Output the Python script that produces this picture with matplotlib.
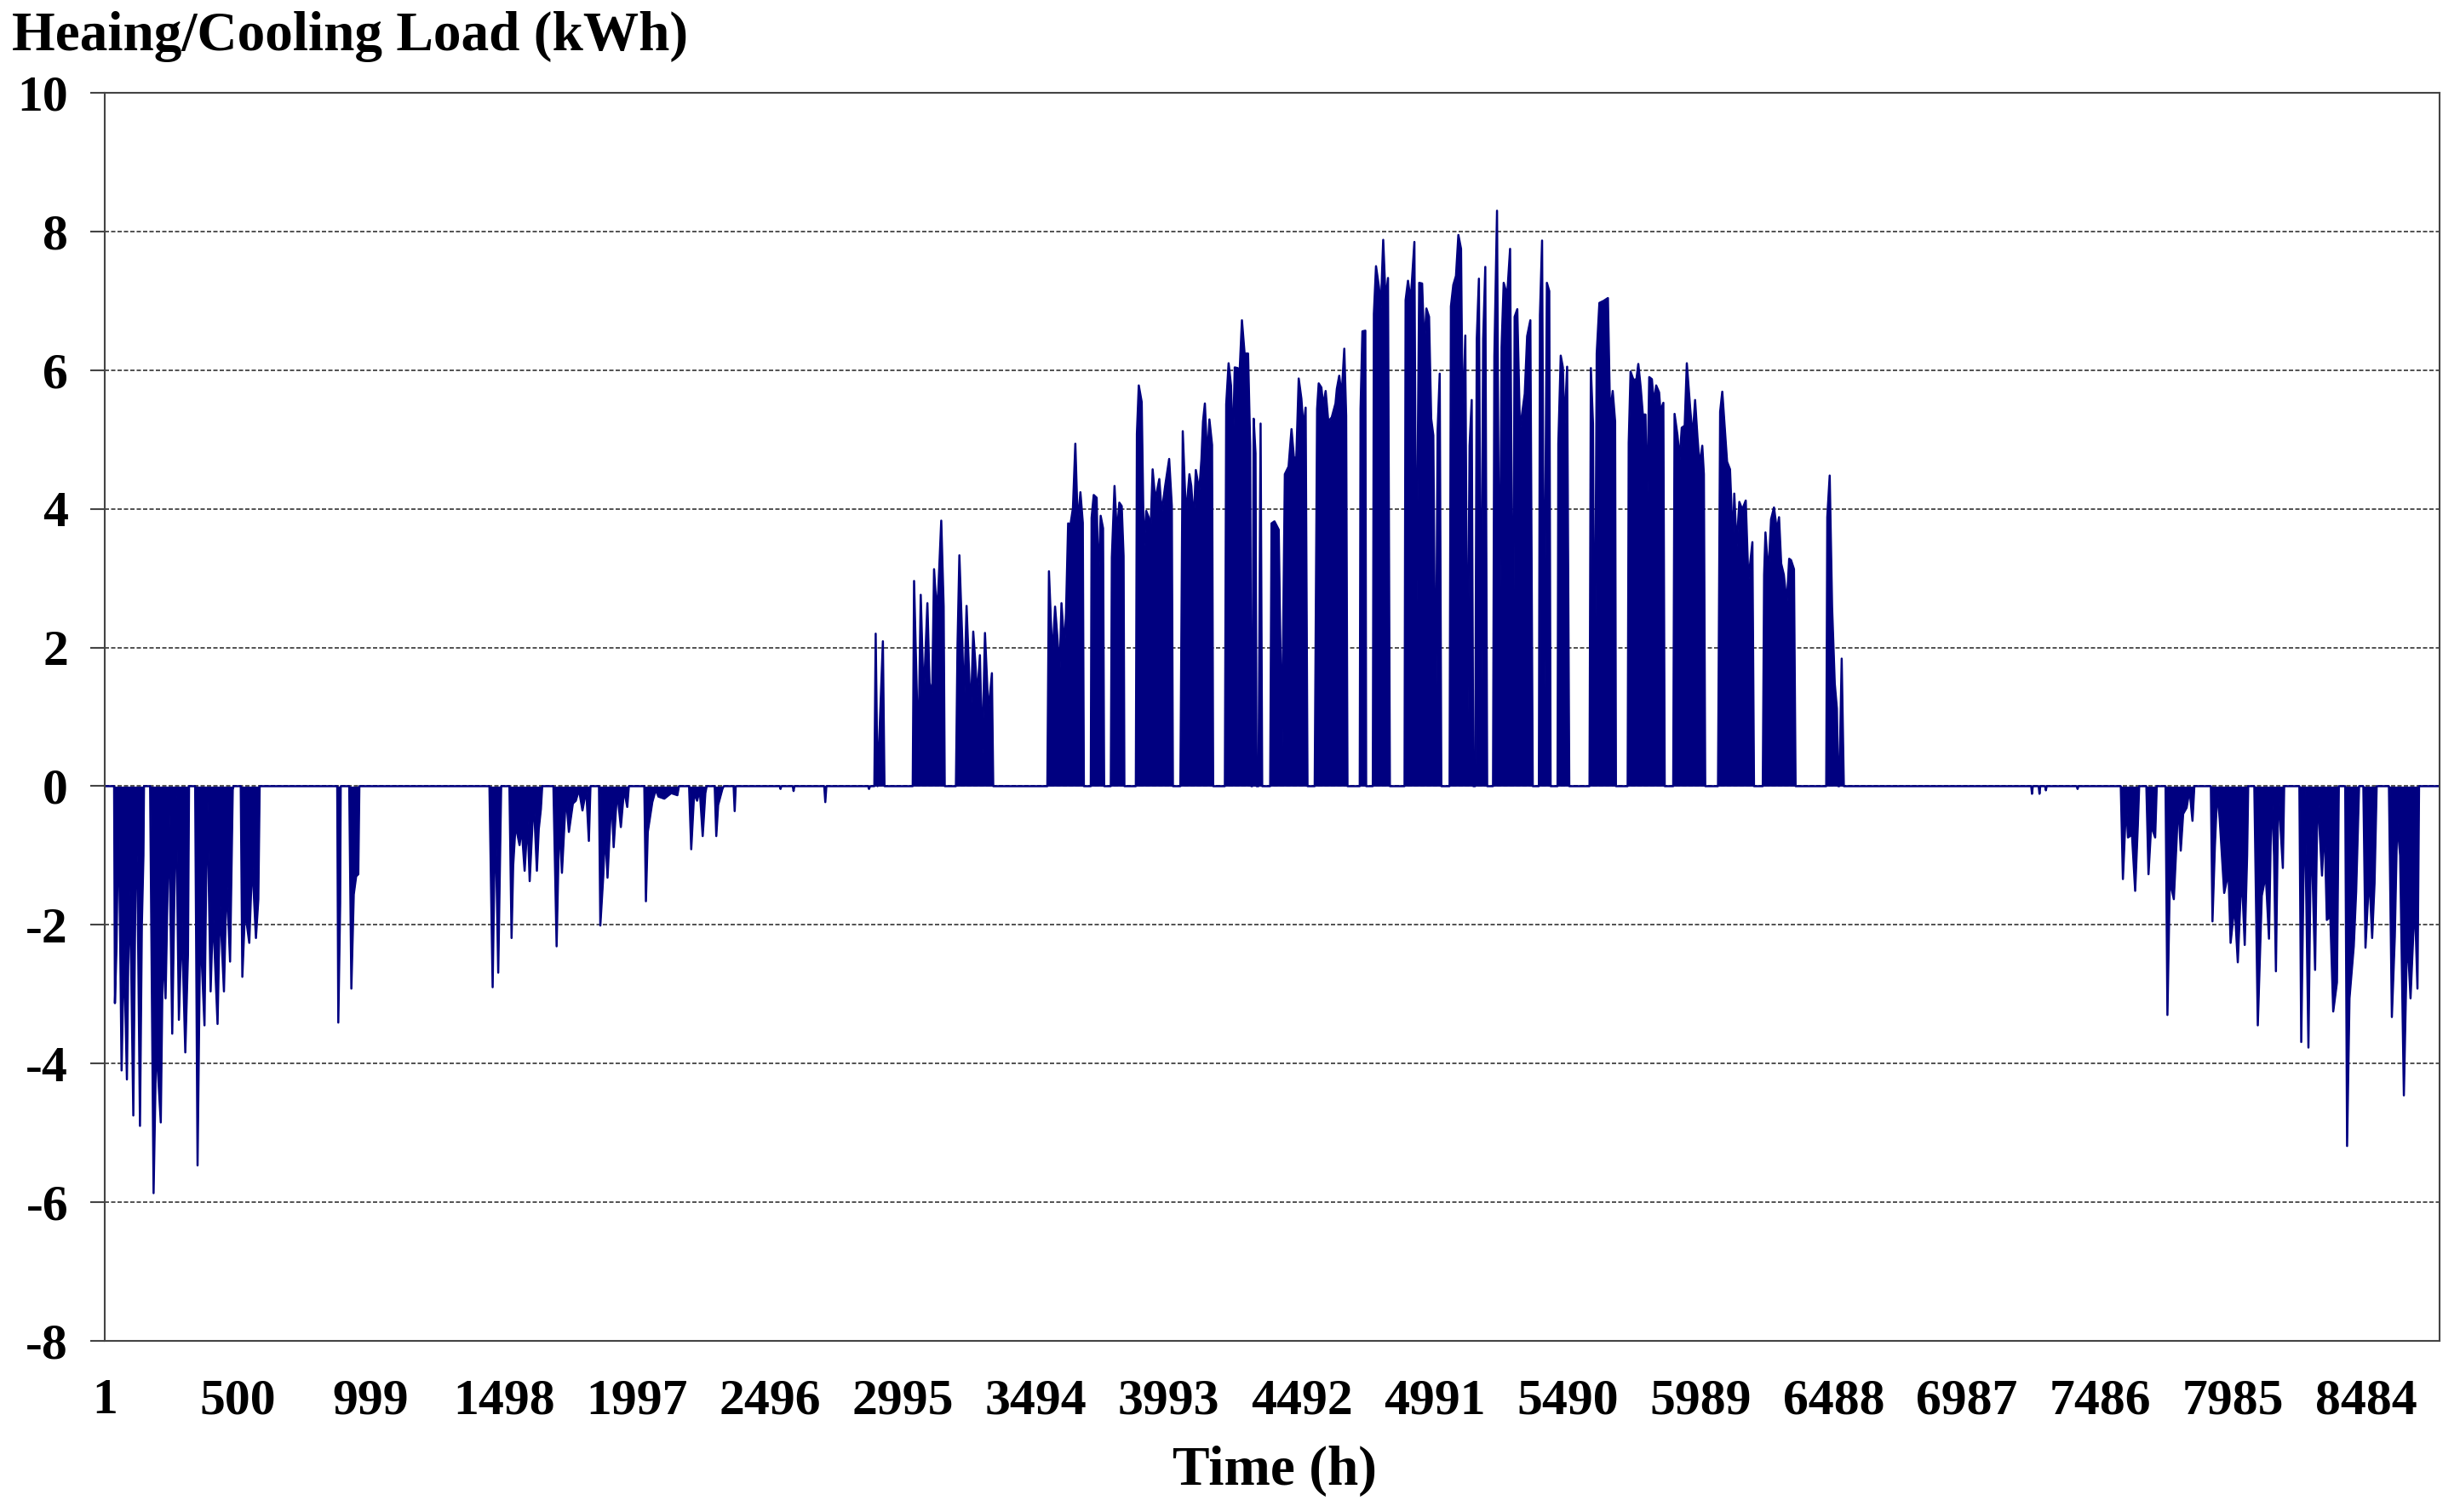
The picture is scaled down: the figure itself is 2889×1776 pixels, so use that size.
import matplotlib
matplotlib.use("Agg")
import matplotlib.pyplot as plt
import numpy as np

# hourly load (kWh) as (hour, load) turning points;
# negative = heating, positive = cooling, zero elsewhere
heating_early = [
  (36, 0), (39, -3.13), (45, -2.32), (52, -0.3), (58, -2.0), (64, -4.10), (73, -2.30),
  (84, -4.23), (92, -1.5), (100, -2.60), (108, -4.75), (118, -0.6), (124, -1.5),
  (133, -4.90), (140, -2.0), (146, -1.0), (148, 0),
  (171, 0), (184, -5.87), (194, -3.69), (211, -4.85), (219, -2.3), (229, -3.06),
  (242, -0.4), (254, -3.57), (268, -0.1), (279, -3.37), (290, -1.95), (303, -3.84),
  (313, -2.43), (317, 0),
  (340, 0), (349, -5.47), (359, -2.0), (375, -3.45), (385, -0.05), (398, -2.96),
  (407, -1.81), (424, -3.43), (433, -1.67), (448, -2.96), (458, -1.33), (471, -2.53),
  (481, -0.05), (484, 0),
  (511, 0), (517, -2.75), (527, -1.79), (543, -2.26), (554, -1.07), (568, -2.19),
  (577, -1.63), (582, 0),
  (873, 0), (877, -3.41), (884, -1.69), (886, 0),
  (918, 0), (926, -2.92), (935, -1.56), (944, -1.3), (952, -1.27), (956, 0),
  (1444, 0), (1456, -2.90), (1466, -0.3), (1477, -2.69), (1488, 0),
  (1519, 0), (1527, -2.19), (1533, -1.15), (1542, -0.56), (1557, -0.85), (1565, -0.6),
  (1576, -1.22), (1587, -0.5), (1595, -1.37), (1610, -0.17), (1622, -1.22),
  (1629, -0.62), (1637, -0.33), (1642, 0),
  (1684, 0), (1696, -2.31), (1706, -0.46), (1716, -1.25), (1731, -0.13), (1742, -0.66),
  (1757, -0.25), (1768, -0.21), (1780, -0.05), (1793, -0.35), (1807, -0.05),
  (1817, -0.79), (1823, 0),
  (1855, 0), (1860, -2.01), (1871, -1.30), (1878, -0.64), (1887, -1.32), (1902, -0.13),
  (1910, -0.88), (1923, -0.07), (1937, -0.59), (1949, -0.05), (1961, -0.30), (1967, 0),
  (2025, 0), (2031, -1.66), (2038, -0.66), (2055, -0.23), (2068, -0.05), (2078, -0.15),
  (2100, -0.18), (2126, -0.10), (2149, -0.13), (2155, 0),
  (2193, 0), (2201, -0.91), (2212, -0.1), (2223, -0.21), (2233, -0.05), (2244, -0.72),
  (2254, -0.1), (2259, 0),
  (2289, 0), (2295, -0.72), (2302, -0.27), (2318, -0.04), (2323, 0),
  (2360, 0), (2364, -0.36), (2368, 0),
  (2533, 0), (2536, -0.04), (2539, 0),
  (2582, 0), (2585, -0.07), (2588, 0),
  (2700, 0), (2704, -0.23), (2708, 0),
  (2865, 0), (2868, -0.04), (2872, 0),
]

cooling = [
  (2888, 0), (2893, 2.20), (2900, 0.0), (2920, 2.09), (2926, 0),
  (3032, 0), (3037, 2.96), (3053, 0.45), (3062, 2.76), (3073, 1.25), (3087, 2.64),
  (3095, 1.49), (3105, 1.34), (3112, 3.13), (3122, 2.52), (3128, 2.83), (3139, 3.83),
  (3148, 2.59), (3152, 0),
  (3194, 0), (3200, 2.04), (3207, 3.33), (3218, 2.09), (3224, 1.11), (3234, 2.60),
  (3243, 1.68), (3250, 1.04), (3259, 2.23), (3267, 1.77), (3274, 1.29), (3284, 1.89),
  (3293, 0.47), (3303, 2.21), (3316, 1.06), (3329, 1.63), (3334, 0),
  (3537, 0), (3543, 3.10), (3556, 1.84), (3566, 2.59), (3575, 2.13), (3583, 1.65),
  (3590, 2.64), (3601, 2.00), (3607, 2.50), (3615, 3.79), (3624, 3.78), (3633, 4.01),
  (3642, 4.94), (3651, 3.78), (3661, 4.24), (3670, 3.80), (3674, 0),
  (3700, 0), (3703, 3.87), (3711, 4.20), (3722, 4.16), (3728, 2.91), (3737, 3.90),
  (3746, 3.72), (3750, 0),
  (3775, 0), (3779, 3.30), (3789, 4.33), (3798, 3.63), (3807, 4.09), (3816, 4.04),
  (3823, 3.32), (3826, 0),
  (3869, 0), (3873, 5.08), (3880, 5.78), (3891, 5.54), (3899, 3.43), (3908, 3.97),
  (3917, 3.88), (3924, 3.66), (3932, 4.57), (3942, 4.13), (3957, 4.43), (3966, 3.95),
  (3979, 4.33), (3994, 4.72), (4004, 4.04), (4008, 0),
  (4036, 0), (4045, 5.12), (4057, 3.90), (4070, 4.50), (4077, 4.33), (4086, 3.81),
  (4094, 4.56), (4107, 4.26), (4115, 4.71), (4121, 5.26), (4128, 5.52), (4137, 4.71),
  (4145, 5.29), (4155, 4.92), (4159, 0),
  (4203, 0), (4208, 5.51), (4217, 6.10), (4226, 5.78), (4233, 4.85), (4240, 6.04),
  (4251, 6.03), (4258, 5.95), (4267, 6.72), (4277, 6.24), (4290, 6.24), (4298, 4.91),
  (4302, 0),
  (4306, 0), (4311, 5.30), (4318, 4.8), (4322, 0),
  (4329, 0), (4337, 5.23), (4343, 0),
  (4373, 0), (4378, 3.79), (4389, 3.82), (4405, 3.70), (4417, 0.53), (4428, 4.50),
  (4442, 4.61), (4453, 5.15), (4462, 4.74), (4471, 4.74), (4480, 5.88), (4490, 5.59),
  (4498, 5.17), (4506, 5.46), (4513, 0),
  (4540, 0), (4549, 5.44), (4555, 5.81), (4565, 5.75), (4572, 5.49), (4581, 5.70),
  (4591, 5.26), (4604, 5.32), (4618, 5.52), (4623, 5.73), (4632, 5.92), (4641, 5.63),
  (4651, 6.31), (4658, 5.34), (4663, 0),
  (4709, 0), (4712, 5.44), (4719, 6.56), (4730, 6.57), (4733, 0),
  (4758, 0), (4762, 6.81), (4770, 7.50), (4781, 7.20), (4788, 6.9), (4797, 7.88),
  (4806, 7.01), (4815, 7.33), (4822, 0),
  (4877, 0), (4881, 7.01), (4890, 7.29), (4900, 7.00), (4914, 7.85), (4921, 2.27),
  (4932, 7.26), (4943, 7.25), (4951, 6.33), (4959, 6.89), (4969, 6.77), (4977, 5.30),
  (4985, 5.06), (4994, 0.6), (5001, 5.12), (5009, 5.95), (5015, 0),
  (5046, 0), (5051, 6.92), (5060, 7.23), (5070, 7.36), (5079, 7.95), (5089, 7.75),
  (5095, 5.17), (5105, 6.50), (5113, 0.8), (5121, 4.91), (5129, 5.57), (5135, 0),
  (5142, 0), (5148, 6.45), (5156, 7.32), (5164, 1.1), (5172, 6.45), (5180, 7.49),
  (5187, 0),
  (5209, 0), (5214, 6.20), (5224, 8.30), (5233, 1.8), (5241, 6.33), (5249, 7.26),
  (5262, 7.08), (5273, 7.75), (5284, 0.8), (5290, 6.77), (5300, 6.88), (5310, 5.14),
  (5321, 5.46), (5328, 5.66), (5337, 6.49), (5349, 6.72), (5358, 0),
  (5381, 0), (5385, 6.79), (5393, 7.87), (5401, 1.4), (5411, 7.26), (5420, 7.14),
  (5425, 0),
  (5451, 0), (5454, 4.94), (5463, 6.21), (5471, 6.04), (5477, 5.17), (5487, 6.05),
  (5495, 0),
  (5571, 0), (5576, 6.03), (5584, 5.23), (5590, 0.5), (5598, 6.24), (5608, 6.97),
  (5624, 7.00), (5640, 7.04), (5648, 5.37), (5658, 5.70), (5667, 5.26), (5670, 0),
  (5714, 0), (5718, 4.95), (5725, 5.98), (5736, 5.86), (5747, 5.87), (5754, 6.09),
  (5763, 5.75), (5771, 5.36), (5781, 5.36), (5786, 3.90), (5795, 5.90), (5805, 5.87),
  (5812, 5.52), (5821, 5.78), (5832, 5.68), (5837, 5.41), (5848, 5.53), (5853, 0),
  (5885, 0), (5890, 5.37), (5901, 5.06), (5909, 4.71), (5917, 5.17), (5928, 5.20),
  (5936, 6.10), (5949, 5.43), (5958, 5.03), (5967, 5.57), (5976, 5.03), (5984, 4.63),
  (5994, 4.91), (6000, 4.50), (6005, 0),
  (6053, 0), (6061, 5.40), (6069, 5.69), (6080, 5.08), (6087, 4.68), (6098, 4.57),
  (6109, 3.48), (6114, 4.22), (6123, 3.46), (6133, 4.10), (6144, 3.99), (6157, 4.12),
  (6167, 2.97), (6182, 3.52), (6188, 0),
  (6221, 0), (6226, 3.05), (6231, 3.66), (6242, 3.05), (6252, 3.85), (6263, 4.02),
  (6274, 3.69), (6282, 3.88), (6290, 3.21), (6300, 3.05), (6311, 2.64), (6320, 3.28),
  (6327, 3.26), (6338, 3.13), (6344, 0),
  (6459, 0), (6463, 3.88), (6472, 4.48), (6481, 2.58), (6491, 1.48), (6499, 1.12),
  (6504, 0), (6508, 0), (6517, 1.84), (6525, 0),
]

heating_late = [
  (7228, 0), (7231, -0.11), (7234, 0), (7256, 0), (7259, -0.11), (7262, 0),
  (7280, 0), (7283, -0.06), (7286, 0), (7399, 0), (7402, -0.04), (7405, 0),
  (7564, 0), (7572, -1.34), (7584, -0.25), (7591, -0.74), (7606, -0.70), (7618, -1.51),
  (7628, -0.56), (7633, 0),
  (7660, 0), (7668, -1.27), (7678, -0.57), (7693, -0.74), (7699, 0),
  (7732, 0), (7739, -3.30), (7748, -1.36), (7763, -1.63), (7774, -0.74), (7779, -0.19),
  (7789, -0.93), (7798, -0.40), (7811, -0.31), (7822, -0.05), (7833, -0.50), (7840, 0),
  (7902, 0), (7908, -1.95), (7917, -0.87), (7926, -0.06), (7935, -0.47), (7952, -1.54),
  (7968, -1.24), (7976, -2.26), (7991, -1.71), (8003, -2.54), (8013, -1.61),
  (8019, -1.37), (8029, -2.29), (8038, -1.0), (8042, 0),
  (8065, 0), (8078, -3.45), (8093, -1.58), (8108, -1.28), (8120, -2.20), (8130, -0.03),
  (8139, -1.0), (8146, -2.67), (8155, -0.05), (8172, -1.18), (8177, 0),
  (8234, 0), (8241, -3.69), (8254, -0.05), (8268, -3.77), (8278, -0.48), (8293, -2.65),
  (8302, -0.07), (8319, -1.29), (8328, -0.48), (8337, -1.93), (8350, -1.88),
  (8361, -3.25), (8375, -2.83), (8382, 0),
  (8406, 0), (8413, -5.19), (8422, -3.06), (8438, -2.31), (8447, -1.52), (8452, -0.83),
  (8458, 0),
  (8474, 0), (8482, -2.33), (8496, -1.27), (8507, -2.19), (8516, -1.40), (8524, 0),
  (8570, 0), (8581, -3.33), (8592, -2.17), (8601, -0.5), (8612, -1.0), (8626, -4.46),
  (8636, -2.55), (8643, -2.44), (8651, -3.06), (8667, -1.63), (8677, -2.92), (8683, 0),
]

x_ticks = [1, 500, 999, 1498, 1997, 2496, 2995, 3494, 3993, 4492, 4991, 5490, 5989,
           6488, 6987, 7486, 7985, 8484]
y_ticks = [-8, -6, -4, -2, 0, 2, 4, 6, 8, 10]

points = [(1, 0)] + heating_early + cooling + heating_late + [(8760, 0)]
hours = np.array([p[0] for p in points])
load = np.array([p[1] for p in points])

navy = '#000080'
font = 'Liberation Serif'

fig = plt.figure(figsize=(28.89, 17.76), dpi=100)
ax = fig.add_axes([0.0426, 0.1132, 0.9491, 0.8254])

ax.fill_between(hours, load, 0, color=navy, linewidth=0)
ax.plot(hours, load, color=navy, linewidth=1.8)

ax.set_xlim(1, 8760)
ax.set_ylim(-8, 10)
ax.set_xticks(x_ticks)
ax.set_yticks(y_ticks)
ax.set_xticklabels([str(t) for t in x_ticks], fontsize=43, fontweight='bold', family=font)
ax.set_yticklabels([str(t) for t in y_ticks], fontsize=43, fontweight='bold', family=font)
ax.tick_params(axis='x', length=0, pad=32)
ax.tick_params(axis='y', length=12, width=1.5, color='#444444', pad=19)

ax.yaxis.grid(True, linestyle=(0, (3, 1.5)), linewidth=1.2, color='#333333')
ax.set_axisbelow(True)

for sp in ax.spines.values():
  sp.set_color('#444444')
  sp.set_linewidth(1.5)

fig.text(0.005, 0.976, "Heaing/Cooling Load (kWh)", fontsize=47, fontweight='bold',
         family=font, ha='left', va='center')
fig.text(0.518, 0.027, "Time (h)", fontsize=47, fontweight='bold', family=font,
         ha='center', va='center')

fig.savefig("out.png", dpi=100)
